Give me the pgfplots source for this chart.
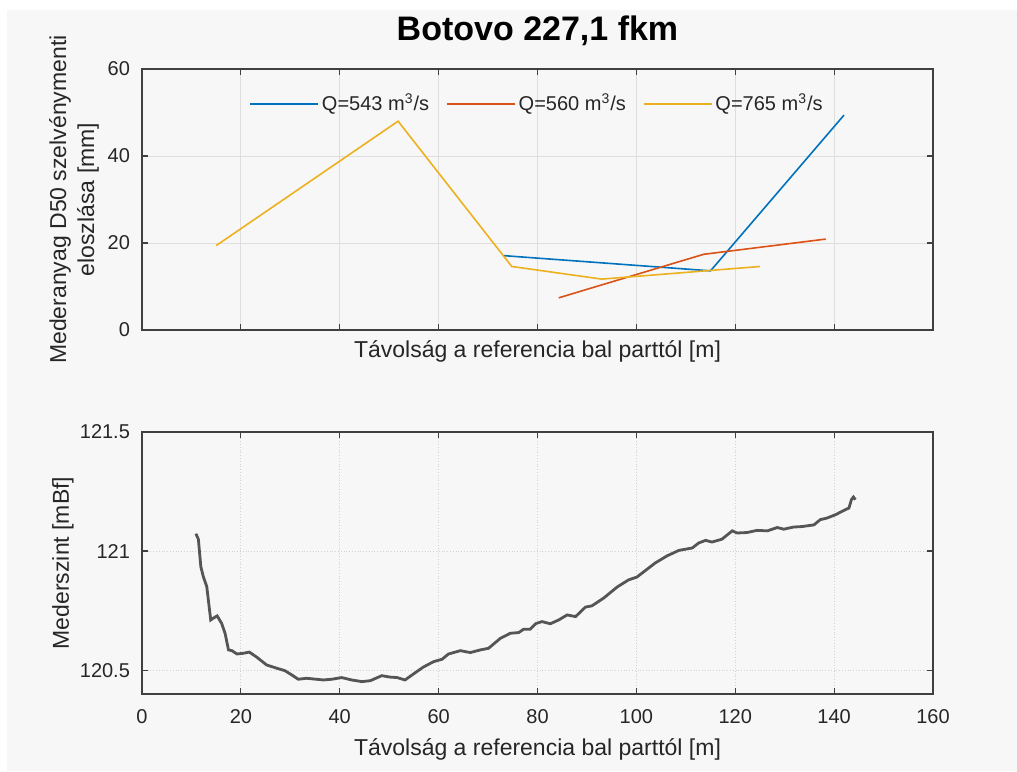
\documentclass[border=0pt]{standalone}
\usepackage{fontspec}
\setmainfont{Liberation Sans}
\usepackage{pgfplots}
\pgfplotsset{compat=1.18}
\definecolor{bgc}{HTML}{F7F7F7}
\definecolor{axc}{HTML}{404040}
\definecolor{txc}{HTML}{262626}
\definecolor{mblue}{HTML}{0072BD}
\definecolor{mred}{HTML}{D95319}
\definecolor{myellow}{HTML}{EDB120}
\definecolor{curve}{HTML}{555555}
\pgfplotsset{
  common/.style={
    scale only axis,
    width=395.5pt,
    xmin=0, xmax=160,
    xtick={0,20,...,160},
    tick align=inside,
    major tick length=3pt,
    axis line style={axc, line width=0.9pt},
    tick style={axc, line width=0.6pt},
    /pgf/number format/assume math mode=true,
    ticklabel style={font=\fontsize{10}{12}\selectfont, text=txc},
    xticklabel style={yshift=-4pt},
    yticklabel style={xshift=-2.5pt},
    label style={font=\fontsize{11.5}{14}\selectfont, text=txc},
    grid=major,
    axis background/.style={fill=bgc},
  }
}
\begin{document}
\begin{tikzpicture}
\fill[white] (0,0) rectangle (508.5pt,-385.5pt);
\fill[bgc] (3.5pt,-5pt) rectangle (508.5pt,-385.5pt);
\begin{axis}[common,
  at={(71pt,-34.5pt)}, anchor=north west,
  height=130.5pt,
  ymin=0, ymax=60, ytick={0,20,40,60},
  xticklabels={},
  major grid style={line width=0.4pt, black!13},
  title={Botovo 227,1 fkm},
  title style={at={(axis description cs:0.5,1)}, anchor=base, yshift=8.2pt, font=\fontsize{17}{20}\selectfont\bfseries},
  xlabel={Távolság a referencia bal parttól [m]},
  xlabel style={at={(axis description cs:0.5,-0.107)}, anchor=base},
  ylabel={Mederanyag D50 szelvénymenti\\eloszlása [mm]},
  ylabel style={at={(axis description cs:-0.086,0.5)}, anchor=center, align=center},
  legend columns=3,
  legend style={at={(axis description cs:0.5,0.866)}, anchor=center, draw=none, fill=none,
    font=\fontsize{10}{12}\selectfont, text=txc,
    nodes={inner sep=1.5pt},
    /tikz/every even column/.append style={column sep=7pt}},
  legend image code/.code={\draw[#1] (0pt,0pt) -- (34pt,0pt);},
]
\addplot[mblue, line width=0.8pt] coordinates {(73.1,17.1) (115,13.6) (142,49.4)};
\addlegendentry{Q=543 m\textsuperscript{3}/s}
\addplot[mred, line width=0.8pt] coordinates {(84.3,7.4) (113.6,17.4) (138.3,20.9)};
\addlegendentry{Q=560 m\textsuperscript{3}/s}
\addplot[myellow, line width=0.8pt] coordinates {(15,19.4) (51.8,48) (74.8,14.6) (93,11.7) (125,14.6)};
\addlegendentry{Q=765 m\textsuperscript{3}/s}
\end{axis}
\begin{axis}[common,
  at={(71pt,-216pt)}, anchor=north west,
  height=131pt,
  ymin=120.4, ymax=121.5, ytick={120.5,121,121.5},
  major grid style={line width=0.4pt, black!18, densely dotted},
  xlabel={Távolság a referencia bal parttól [m]},
  xlabel style={at={(axis description cs:0.5,-0.233)}, anchor=base},
  ylabel={Mederszint [mBf]},
  ylabel style={at={(axis description cs:-0.1,0.5)}, anchor=center},
]
\addplot[curve, line width=1.4pt] coordinates {
(10.9,121.073) (11.4,121.05) (11.9,120.935) (12.4,120.893) (13.1,120.851)
(13.9,120.711) (14.4,120.718) (15.2,120.728) (16.1,120.697) (16.8,120.655)
(17.5,120.585) (18.2,120.582) (19.2,120.568) (20.5,120.571) (21.7,120.576)
(23.2,120.555) (25.2,120.522) (27.3,120.508) (28.9,120.498) (30.3,120.480)
(31.6,120.462) (33.3,120.466) (36.7,120.459) (38.4,120.462) (40.4,120.469)
(42.4,120.459) (44.5,120.452) (46.2,120.456) (48.5,120.477) (50.2,120.471)
(51.6,120.469) (53.2,120.459) (54.9,120.484) (56.9,120.513) (59.0,120.536)
(60.7,120.546) (62.0,120.568) (64.4,120.582) (66.4,120.574) (68.4,120.585)
(70.1,120.592) (72.5,120.634) (74.5,120.655) (76.2,120.658) (77.2,120.672)
(78.5,120.672) (79.6,120.695) (80.9,120.704) (82.6,120.695) (84.3,120.711)
(86.0,120.732) (87.7,120.725) (89.7,120.765) (91.0,120.770) (93.4,120.803)
(96.1,120.849) (98.4,120.879) (100.1,120.891) (101.8,120.918) (103.8,120.950)
(106.2,120.980) (108.6,121.003) (111.3,121.013) (112.6,121.034) (114.0,121.045)
(115.3,121.038) (117.3,121.050) (119.4,121.085) (120.4,121.076) (122.4,121.078)
(124.4,121.087) (126.5,121.085) (128.5,121.099) (129.8,121.092) (131.8,121.101)
(133.5,121.103) (135.9,121.110) (137.2,121.132) (138.6,121.139) (140.3,121.153)
(142.0,121.171) (143.0,121.181) (143.5,121.216) (143.9,121.227) (144.3,121.216)
};
\end{axis}
\pgfresetboundingbox
\useasboundingbox (0,0) rectangle (508.5pt,-385.5pt);
\end{tikzpicture}
\end{document}
